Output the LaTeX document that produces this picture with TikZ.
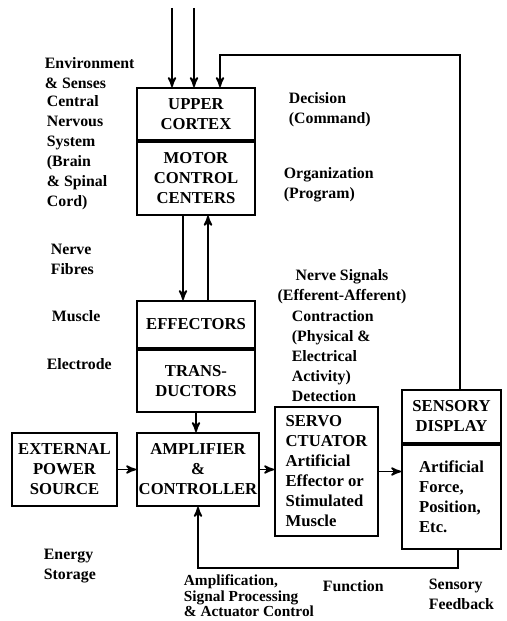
\documentclass[tikz,border=0pt]{standalone}
\usepackage{fontspec}
\setmainfont{Liberation Serif}
\usetikzlibrary{arrows,positioning,calc}

\tikzset{
  block/.style={draw, line width=1.1pt, align=center, inner sep=1pt,
    font=\fontsize{10}{12}\selectfont\bfseries},
  note/.style={anchor=north west, align=left, inner sep=0pt,
    font=\fontsize{9.5}{12}\selectfont\bfseries},
}

\begin{document}
\begin{tikzpicture}[x=0.6pt,y=-0.6pt,>=stealth',line width=1.1pt]
    \useasboundingbox (0,0) rectangle (506,621);

    % blocks
    \node[block, minimum width=70.8pt, minimum height=31.2pt] (cortex) at (196,114) {UPPER\\CORTEX};
    \node[block, minimum width=70.8pt, minimum height=43.8pt] (motor) [below=0pt of cortex] {MOTOR\\CONTROL\\CENTERS};
    \node[block, minimum width=70.8pt, minimum height=28.2pt] (effectors) at (196,324.5) {EFFECTORS};
    \node[block, minimum width=70.8pt, minimum height=37.2pt] (trans) [below=0pt of effectors] {TRANS-\\DUCTORS};
    \node[block, minimum width=73.2pt, minimum height=43.8pt] (amp) at (198,469.5) {AMPLIFIER\\\&\\CONTROLLER};
    \node[block, minimum width=63pt, minimum height=43.8pt] (power) at (64.5,469.5) {EXTERNAL\\POWER\\SOURCE};
    \node[block, align=left, minimum width=61.8pt, minimum height=77.4pt] (servo) at (326.5,471.5)
        {SERVO\\CTUATOR\\Artificial\\Effector or\\Stimulated\\Muscle};
    \node[block, minimum width=59.4pt, minimum height=31.8pt] (display) at (451.5,416.5) {SENSORY\\DISPLAY};
    \node[block, align=left, minimum width=59.4pt, minimum height=62.4pt] (artificial) [below=0pt of display]
        {Artificial\\Force,\\Position,\\Etc.};

    % labels
    \node[note] (env)      at (44,57)  {Environment\\\& Senses};
    \node[note] (cns)      at (46,95)  {Central\\Nervous\\System\\(Brain\\\& Spinal\\Cord)};
    \node[note] (decision) at (288,92) {Decision\\(Command)};
    \node[note] (org)      at (283,167) {Organization\\(Program)};
    \node[note] (fibres)   at (50,243) {Nerve\\Fibres};
    \node[note] (muscle)   at (51,310) {Muscle};
    \node[note] (electrode) at (46,358) {Electrode};
    \node[note, anchor=north, align=center] (signals) at (342,269) {Nerve Signals\\(Efferent-Afferent)};
    \node[note] (contraction) at (291,310) {Contraction\\(Physical \&\\Electrical\\Activity)\\Detection};
    \node[note] (energy)   at (43,548) {Energy\\Storage};
    \node[note, font=\fontsize{9.2}{9.2}\selectfont\bfseries] (ampl) at (183,574)
        {Amplification,\\Signal Processing\\\& Actuator Control};
    \node[note] (function) at (322,580) {Function};
    \node[note] (feedback) at (428,578) {Sensory\\Feedback};

    % connectors
    \coordinate (in1) at (172,8);
    \coordinate (in2) at (194,8);
    \coordinate (fbtop) at (460,55);
    \coordinate (fbleft) at (220,55);
    \coordinate (fbbot) at (458,568);

    \draw[->] (in1) -- (in1 |- cortex.north);
    \draw[->] (in2) -- (in2 |- cortex.north);
    \draw[->] (display.north -| fbtop) -- (fbtop) -- (fbleft) -- (fbleft |- cortex.north);
    \draw[->] ([xshift=-7.8pt]motor.south) -- ([xshift=-7.8pt]effectors.north);
    \draw[->] ([xshift=7.2pt]effectors.north) -- ([xshift=7.2pt]motor.south);
    \draw[->] (trans.south) -- (trans.south |- amp.north);
    \draw[->] (power.east) -- (amp.west);
    \draw[->] (amp.east) -- (amp.east -| servo.west);
    \draw[->] (servo.east) -- (servo.east -| artificial.west);
    \draw[->] (artificial.south -| fbbot) -- (fbbot) -- (fbbot -| amp.south) -- (amp.south);
\end{tikzpicture}
\end{document}
